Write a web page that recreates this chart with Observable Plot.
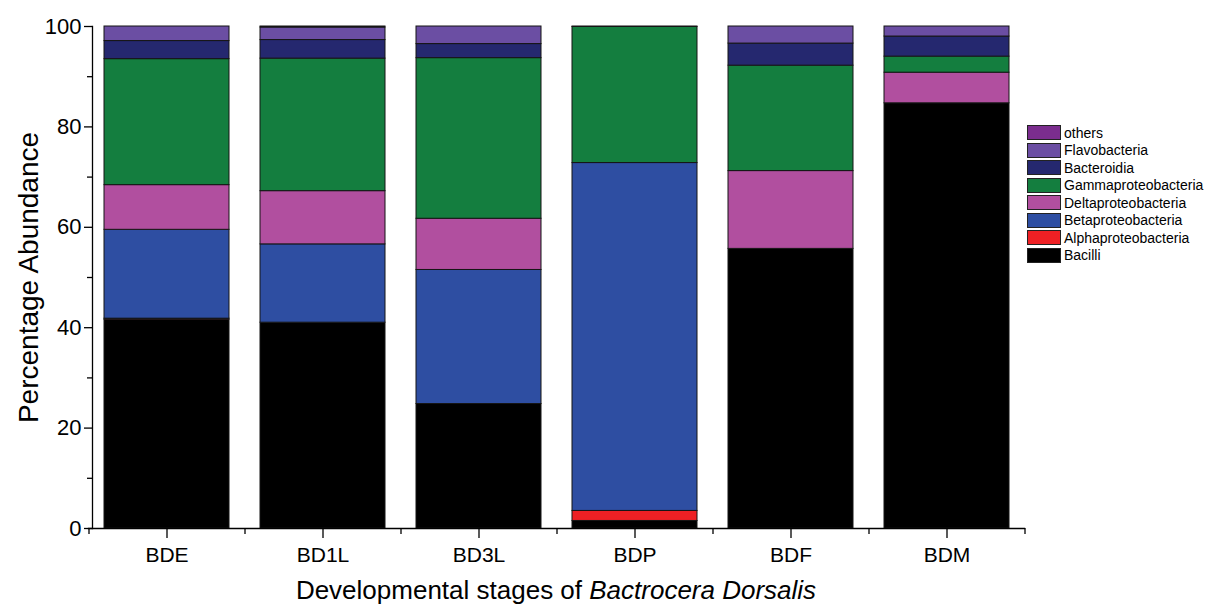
<!DOCTYPE html>
<html>
<head>
<meta charset="utf-8">
<script src="https://cdn.jsdelivr.net/npm/d3@7"></script>
<script src="https://cdn.jsdelivr.net/npm/@observablehq/plot@0.6"></script>
<style>
  html, body { margin: 0; padding: 0; background: #fff; }
  body { position: relative; width: 1210px; height: 606px; overflow: hidden; font-family: "Liberation Sans", Arial, sans-serif; color: #000; }
  #chart { position: absolute; left: 0; top: 0; }
  #xtitle { position: absolute; left: 88px; width: 936px; top: 577px; text-align: center; font-size: 26px; line-height: 26px; white-space: nowrap; }
  #legend { position: absolute; left: 1027px; top: 124px; font-size: 14px; }
  .row { display: flex; align-items: center; height: 17.5px; }
  .sw { width: 34px; height: 15px; box-sizing: border-box; border: 1px solid #222; margin-right: 3px; }
</style>
</head>
<body>
<div id="chart"></div>
<div id="xtitle">Developmental stages of <i>Bactrocera Dorsalis</i></div>
<div id="legend"></div>
<script>
const stages = ["BDE", "BD1L", "BD3L", "BDP", "BDF", "BDM"];
const series = ["Bacilli", "Alphaproteobacteria", "Betaproteobacteria", "Deltaproteobacteria", "Gammaproteobacteria", "Bacteroidia", "Flavobacteria", "others"];
const colors = ["#000000", "#ee2024", "#2e4ea2", "#b14f9f", "#147e3f", "#25286f", "#6b4ea3", "#7b2d8e"];

const bacilli     = [41.6, 41.0, 24.8, 1.5, 55.7, 84.7];
const alpha       = [0.2, 0, 0, 2.0, 0, 0];
const beta        = [17.7, 15.6, 26.7, 69.3, 0, 0];
const delta       = [8.9, 10.6, 10.2, 0, 15.5, 6.1];
const gamma       = [25.1, 26.4, 32.0, 27.1, 21.0, 3.2];
const bacteroidia = [3.6, 3.7, 2.8, 0, 4.4, 4.0];
const flavo       = [2.9, 2.5, 3.5, 0, 3.4, 2.0];
const others      = [0, 0.2, 0, 0.1, 0, 0];

const values = [bacilli, alpha, beta, delta, gamma, bacteroidia, flavo, others];
const yMajor = [0, 20, 40, 60, 80, 100];
const yMinor = [10, 30, 50, 70, 90];

const data = series.flatMap((s, i) => stages.map((st, j) => ({stage: st, series: s, value: values[i][j]})))
  .filter(d => d.value > 0);

const chart = Plot.plot({
  width: 1210,
  height: 570,
  marginLeft: 88,
  marginRight: 186,
  marginTop: 26,
  marginBottom: 42,
  style: {fontFamily: "'Liberation Sans', Arial, sans-serif", background: "white", color: "black"},
  x: {domain: stages, paddingInner: 0.2, paddingOuter: 0.1},
  y: {domain: [0, 100]},
  color: {domain: series, range: colors},
  marks: [
    Plot.barY(data, Plot.stackY({x: "stage", y: "value", fill: "series", stroke: "#151515", strokeWidth: 1})),
    Plot.frame({anchor: "left", strokeWidth: 1.3, dx: 4}),
    Plot.frame({anchor: "bottom", strokeWidth: 1.3}),
    Plot.axisY({ticks: yMajor, tickSize: 8, tickPadding: 3, fontSize: 22, label: null, strokeWidth: 1.3, dx: 4}),
    Plot.axisY({ticks: yMinor, tickSize: 5, text: null, label: null, strokeWidth: 1.3, dx: 4}),
    Plot.axisX({tickSize: 10, tickPadding: 9, fontSize: 21, label: null, strokeWidth: 1.3}),
    Plot.axisX({tickSize: 6, text: null, label: null, dx: 78, strokeWidth: 1.3}),
    Plot.axisX({ticks: [stages[0]], tickSize: 6, text: null, label: null, dx: -78, strokeWidth: 1.3}),
    Plot.text(["Percentage Abundance"], {frameAnchor: "left", dx: -59, rotate: -90, fontSize: 28, text: d => d, textAnchor: "middle", lineAnchor: "middle"})
  ]
});
document.getElementById("chart").appendChild(chart);

const legend = document.getElementById("legend");
for (let i = series.length - 1; i >= 0; i--) {
  const row = document.createElement("div");
  row.className = "row";
  const sw = document.createElement("div");
  sw.className = "sw";
  sw.style.background = colors[i];
  const label = document.createElement("span");
  label.textContent = series[i];
  row.appendChild(sw);
  row.appendChild(label);
  legend.appendChild(row);
}
</script>
</body>
</html>
